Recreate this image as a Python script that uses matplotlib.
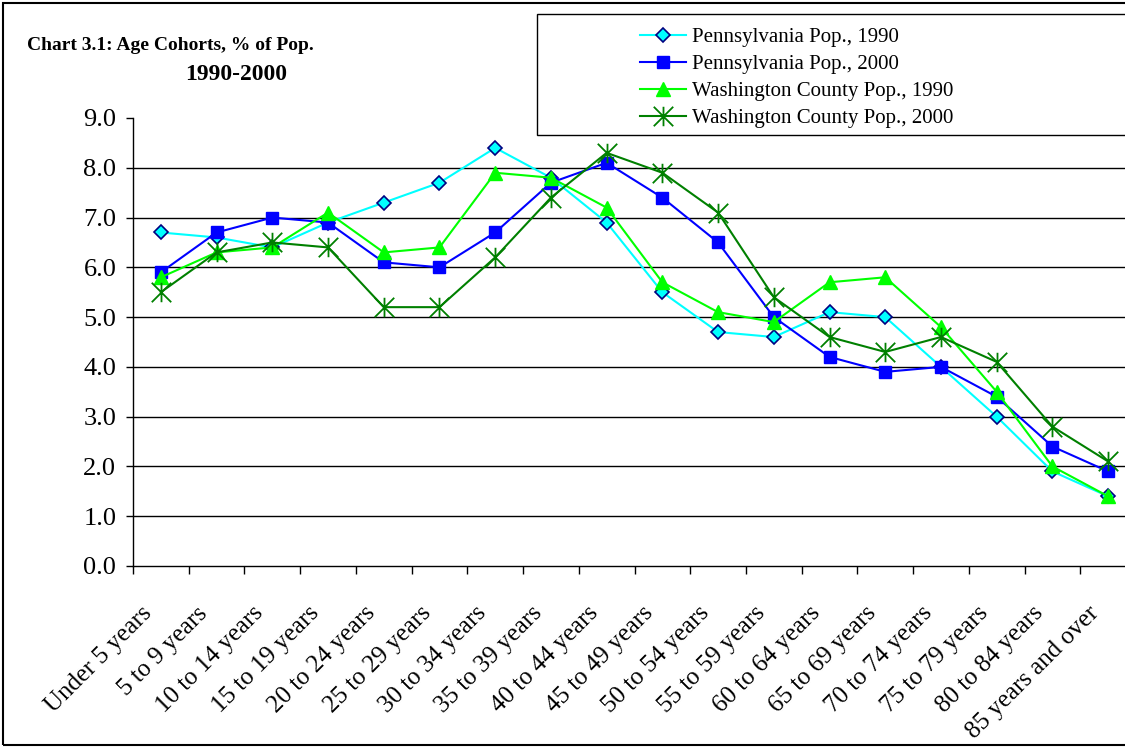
import matplotlib
matplotlib.use('Agg')
import matplotlib.pyplot as plt
import numpy as np
from matplotlib.path import Path
from matplotlib.patches import Rectangle
from matplotlib.transforms import ScaledTranslation

plt.rcParams['font.family'] = ['Liberation Serif', 'DejaVu Serif']

# 年齢区分
categories = ['Under 5 years', '5 to 9 years', '10 to 14 years', '15 to 19 years',
              '20 to 24 years', '25 to 29 years', '30 to 34 years', '35 to 39 years',
              '40 to 44 years', '45 to 49 years', '50 to 54 years', '55 to 59 years',
              '60 to 64 years', '65 to 69 years', '70 to 74 years', '75 to 79 years',
              '80 to 84 years', '85 years and over']

pa_1990 = [6.7, 6.6, 6.4, 6.9, 7.3, 7.7, 8.4, 7.8, 6.9, 5.5, 4.7, 4.6, 5.1, 5.0, 4.0, 3.0, 1.9, 1.4]
pa_2000 = [5.9, 6.7, 7.0, 6.9, 6.1, 6.0, 6.7, 7.7, 8.1, 7.4, 6.5, 5.0, 4.2, 3.9, 4.0, 3.4, 2.4, 1.9]
wc_1990 = [5.8, 6.3, 6.4, 7.1, 6.3, 6.4, 7.9, 7.8, 7.2, 5.7, 5.1, 4.9, 5.7, 5.8, 4.8, 3.5, 2.0, 1.4]
wc_2000 = [5.5, 6.3, 6.5, 6.4, 5.2, 5.2, 6.2, 7.4, 8.3, 7.9, 7.1, 5.4, 4.6, 4.3, 4.6, 4.1, 2.8, 2.1]

y_ticks = np.arange(0, 9.01, 1.0)

# Excel風のアスタリスクマーカー
star = Path([(0, -1), (0, 1), (-1, -1), (1, 1), (-1, 1), (1, -1)],
            [Path.MOVETO, Path.LINETO, Path.MOVETO, Path.LINETO, Path.MOVETO, Path.LINETO])

W, H = 1125, 747
fig = plt.figure(figsize=(W / 100, H / 100), dpi=100)
ax = fig.add_axes([133 / W, 1 - 566 / H, (1136 - 133) / W, (566 - 118) / H])

x = np.arange(len(categories))
ax.plot(x, pa_1990, '-', color='#00FFFF', lw=1.5, marker='D', markersize=7,
        markerfacecolor='#00FFFF', markeredgecolor='#000080', markeredgewidth=1.2,
        label='Pennsylvania Pop., 1990')
ax.plot(x, pa_2000, '-', color='#0000FF', lw=1.5, marker='s', markersize=8,
        markerfacecolor='#0000FF', markeredgecolor='#0000FF',
        label='Pennsylvania Pop., 2000')
ax.plot(x, wc_1990, '-', color='#00FF00', lw=1.5, marker='^', markersize=9.5,
        markerfacecolor='#00FF00', markeredgecolor='#00FF00',
        label='Washington County Pop., 1990')
ax.plot(x, wc_2000, '-', color='#008000', lw=1.5, marker=star, markersize=14,
        markerfacecolor='none', markeredgecolor='#008000', markeredgewidth=1.3,
        label='Washington County Pop., 2000')

ax.set_xlim(-0.5, len(categories) - 0.5)
ax.set_ylim(0, 9)
ax.set_yticks(y_ticks)
ax.set_yticklabels(['{0:.1f}'.format(v) for v in y_ticks], fontsize=19)
for v in y_ticks[1:-1]:
    ax.axhline(v, color='black', lw=1, zorder=0)

ax.set_xticks(x)
ax.set_xticklabels(categories, rotation=45, ha='right', va='top',
                   rotation_mode='anchor', fontsize=18)
ax.set_xticks(np.arange(-0.5, len(categories)), minor=True)
ax.tick_params(axis='x', which='major', length=0, pad=8)
ax.tick_params(axis='x', which='minor', length=6, width=1, direction='out')
ax.tick_params(axis='y', length=5, width=1, direction='out', pad=7)
# ラベルを左下へずらす
offset = ScaledTranslation(-20 / 100, -25 / 100, fig.dpi_scale_trans)
for lab in ax.get_xticklabels():
    lab.set_transform(lab.get_transform() + offset)
for s in ['top', 'right']:
    ax.spines[s].set_visible(False)
for s in ['left', 'bottom']:
    ax.spines[s].set_linewidth(1)

fig.text(170 / W, 1 - 45 / H, 'Chart 3.1: Age Cohorts, % of Pop.', ha='center', va='center',
         fontsize=14, fontweight='bold')
fig.text(236 / W, 1 - 75 / H, '1990-2000', ha='center', va='center',
         fontsize=17, fontweight='bold')

# 凡例の枠
fig.patches.append(Rectangle((537 / W, 1 - 135 / H), 600 / W, 121 / H, transform=fig.transFigure,
                             facecolor='white', edgecolor='black', lw=1, zorder=2))
leg = fig.legend(loc='upper left', bbox_to_anchor=(623 / W, 1 - 11 / H), frameon=False,
                 fontsize=15, handlelength=2.2, handletextpad=0.3, labelspacing=0.36,
                 borderpad=0.3)
leg.set_zorder(3)

# 外枠
fig.patches.append(Rectangle((3 / W, 2 / H), 1.2, (H - 5) / H, transform=fig.transFigure,
                             facecolor='none', edgecolor='black', lw=1.5))

plt.savefig('out.png', dpi=100)
plt.close()
